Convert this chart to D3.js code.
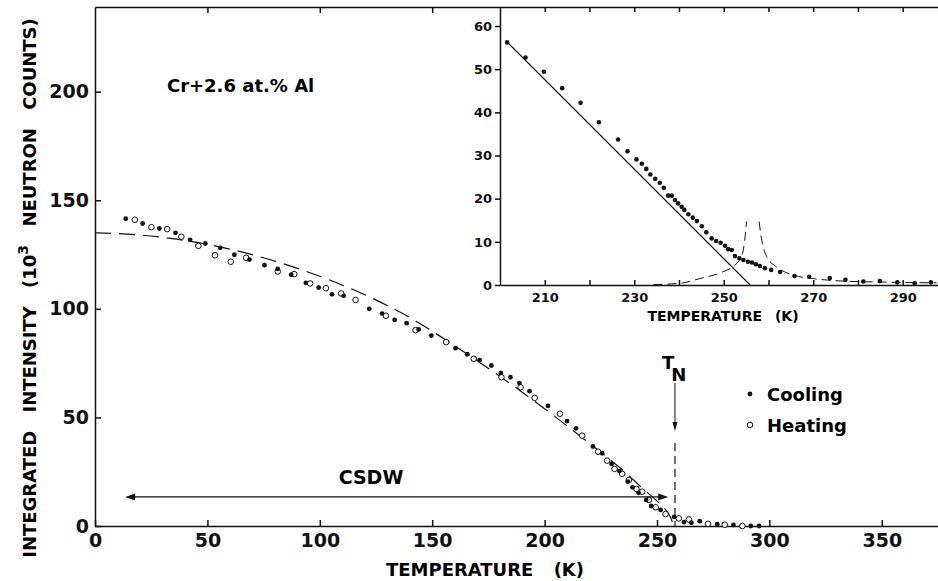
<!DOCTYPE html>
<html>
<head>
<meta charset="utf-8">
<script src="https://cdn.jsdelivr.net/npm/d3@7"></script>
<style>
  body { margin: 0; background: #fff; }
  svg { display: block; font-family: "DejaVu Sans", sans-serif; font-weight: bold; }
</style>
</head>
<body>
<svg width="938" height="581"></svg>
<script>
// Main panel: cooling (filled) and heating (open) runs
const coolT = [13.7, 21.2, 28.6, 35.8, 42.3, 49.1, 55.7, 62.0, 68.7, 75.4, 81.3, 87.3, 93.8, 99.5, 105.4, 110.6, 122.0, 127.7, 133.3, 138.6, 144.0, 149.6, 160.4, 165.6, 171.1, 176.3, 180.5, 184.8, 188.8, 193.3, 201.5, 210.0, 214.0, 221.5, 225.6, 229.8, 233.3, 237.0, 239.1, 241.8, 245.2, 247.4, 251.6, 257.6, 262.0, 265.3, 269.0, 276.8, 284.0, 291.7, 295.4];
const coolI = [141.5, 139.3, 137.0, 135.0, 131.8, 130.1, 128.1, 124.9, 122.7, 120.1, 118.4, 115.7, 112.0, 109.8, 106.7, 106.0, 100.0, 97.8, 94.9, 93.4, 90.5, 87.7, 81.9, 79.1, 76.4, 73.9, 70.5, 68.5, 65.8, 62.1, 55.3, 48.3, 45.0, 36.6, 33.5, 28.6, 25.3, 20.4, 17.8, 15.3, 12.0, 9.2, 7.4, 4.2, 1.8, 1.5, 2.2, 0.8, 0.5, 0, 0];

const heatT = [17.7, 25.1, 32.1, 38.4, 46.0, 53.4, 60.4, 67.2, 81.3, 88.6, 95.7, 102.7, 109.5, 115.9, 129.4, 142.6, 156.2, 168.5, 180.8, 189.3, 195.6, 206.8, 216.7, 223.8, 227.8, 231.1, 234.5, 237.5, 240.9, 243.4, 246.4, 249.4, 253.8, 259.7, 264.2, 272.7, 280.1, 288.0];
const heatI = [141.0, 137.6, 136.7, 133.2, 129.0, 124.7, 121.7, 123.5, 117.2, 116.0, 111.7, 109.5, 107.1, 104.1, 96.8, 90.2, 84.7, 77.0, 68.5, 63.9, 59.0, 51.7, 41.6, 34.2, 30.1, 26.3, 24.0, 21.2, 17.1, 15.8, 12.0, 8.6, 5.5, 3.5, 3.0, 1.0, 0.6, 0];

// dashed theoretical curve
const fitT = [0, 20, 40, 60, 80, 100, 120, 140, 160, 180, 200, 220, 235, 245, 250, 253, 256, 257.5];
const fitI = [135, 134, 131.5, 127.5, 122, 115, 106.5, 96, 83, 69, 54, 38, 25.5, 16, 11.5, 8.5, 4, 0];

const xTicks = [0, 50, 100, 150, 200, 250, 300, 350];
const yTicks = [0, 50, 100, 150, 200];
const TN = 258;
const csdwFrom = 13.4, csdwTo = 255, csdwLevel = 13.4;

// Inset: cooling run near T_N
const insT = [201.6, 205.7, 209.8, 213.9, 218.0, 222.1, 226.4, 228.5, 230.5, 231.7, 232.7, 233.6, 234.7, 235.7, 236.6, 237.6, 238.4, 239.1, 239.8, 240.6, 241.2, 242.1, 243.1, 244.0, 245.1, 246.1, 247.3, 248.3, 249.3, 250.3, 251.0, 251.8, 252.5, 253.5, 254.4, 255.4, 256.3, 257.2, 258.1, 259.2, 260.6, 262.6, 265.8, 269.1, 273.7, 277.2, 281.2, 284.9, 288.8, 292.7, 296.3];
const insI = [56.2, 52.7, 49.4, 45.6, 42.2, 37.7, 33.7, 31.0, 29.1, 28.1, 26.9, 25.6, 24.6, 23.7, 22.5, 20.7, 20.7, 19.7, 18.9, 18.1, 17.4, 16.4, 15.6, 14.8, 13.6, 12.2, 10.8, 10.2, 9.8, 9.1, 8.3, 8.1, 6.7, 6.2, 5.8, 5.4, 5.2, 4.8, 4.4, 3.9, 3.5, 3.0, 2.1, 1.9, 1.6, 1.2, 0.8, 0.9, 0.6, 0.4, 0.6];
const insLineT = [201.5, 255.9];
const insLineI = [56.4, 0];
const insDashLT = [234.3, 240.3, 244.7, 249.9, 252.9, 254.2, 254.7, 255.1];
const insDashLI = [0.1, 0.4, 1.5, 3.1, 5.0, 7.3, 10.4, 14.7];
const insDashRT = [257.9, 258.5, 259.6, 261.8, 265.5, 270, 276.7, 284.2, 297.6];
const insDashRI = [14.7, 10.4, 6.6, 4.2, 2.3, 1.5, 0.9, 0.7, 0.5];
const insXTicks = [210, 220, 230, 240, 250, 260, 270, 280, 290];
const insXLabels = [210, 230, 250, 270, 290];
const insYTicks = [0, 10, 20, 30, 40, 50, 60];

const svg = d3.select("svg");

const x = d3.scaleLinear().domain([0, 375]).range([95, 938]);
const y = d3.scaleLinear().domain([0, 239]).range([526, 7]);

// main axes, ticks pointing inward
svg.append("g")
    .attr("transform", "translate(0,526)")
    .call(d3.axisBottom(x).tickValues(xTicks).tickSize(-6).tickSizeOuter(0).tickPadding(8))
    .call(g => g.selectAll("text").attr("font-size", 19));
svg.append("g")
    .attr("transform", "translate(95,0)")
    .call(d3.axisLeft(y).tickValues(yTicks).tickSize(-6).tickSizeOuter(0).tickPadding(6))
    .call(g => g.selectAll("text").attr("font-size", 19));
svg.append("g")
    .attr("transform", "translate(0,7)")
    .call(d3.axisTop(x).tickValues([50, 100, 150]).tickSize(-6).tickSizeOuter(0).tickFormat(""));
svg.selectAll(".domain, .tick line").attr("stroke", "#111").attr("stroke-width", 1.5);
svg.selectAll(".tick text").attr("fill", "#111").attr("font-family", "DejaVu Sans").attr("font-weight", "bold");

// axis titles
svg.append("text")
    .attr("x", 485).attr("y", 576)
    .attr("text-anchor", "middle").attr("font-size", 18)
    .attr("word-spacing", 14)
    .text("TEMPERATURE (K)");

const yt = svg.append("text")
    .attr("transform", "translate(36,288) rotate(-90)")
    .attr("text-anchor", "middle").attr("font-size", 18)
    .attr("word-spacing", 12);
yt.append("tspan").text("INTEGRATED INTENSITY (10");
yt.append("tspan").attr("font-size", 14).attr("dy", -8).text("3");
yt.append("tspan").attr("dy", 8).text(" NEUTRON COUNTS)");

svg.append("text")
    .attr("x", x(32)).attr("y", y(200))
    .attr("font-size", 18)
    .text("Cr+2.6 at.% Al");

// dashed fit
const fitLine = d3.line().x(d => x(d[0])).y(d => y(d[1])).curve(d3.curveMonotoneX);
svg.append("path")
    .datum(d3.zip(fitT, fitI))
    .attr("d", fitLine)
    .attr("fill", "none").attr("stroke", "#111").attr("stroke-width", 1.2)
    .attr("stroke-dasharray", "16,8");

// points
svg.append("g").selectAll("circle")
    .data(d3.zip(heatT, heatI))
    .join("circle")
    .attr("cx", d => x(d[0])).attr("cy", d => y(d[1])).attr("r", 2.8)
    .attr("fill", "#fff").attr("stroke", "#111").attr("stroke-width", 1);
svg.append("g").selectAll("circle")
    .data(d3.zip(coolT, coolI))
    .join("circle")
    .attr("cx", d => x(d[0])).attr("cy", d => y(d[1])).attr("r", 2.4)
    .attr("fill", "#111");

// CSDW double arrow
const ay = y(csdwLevel);
svg.append("line")
    .attr("x1", x(csdwFrom) + 6).attr("x2", x(csdwTo) - 6)
    .attr("y1", ay).attr("y2", ay)
    .attr("stroke", "#111").attr("stroke-width", 1.2);
svg.append("path")
    .attr("d", `M${x(csdwFrom)},${ay} l10,-3.5 l0,7 Z M${x(csdwTo)},${ay} l-10,-3.5 l0,7 Z`)
    .attr("fill", "#111");
svg.append("text")
    .attr("x", 371).attr("y", 484)
    .attr("text-anchor", "middle").attr("font-size", 19)
    .text("CSDW");

// T_N marker
const tx = x(TN);
svg.append("line")
    .attr("x1", tx).attr("x2", tx).attr("y1", 383).attr("y2", 424)
    .attr("stroke", "#111").attr("stroke-width", 1);
svg.append("path")
    .attr("d", `M${tx},431 l-2.5,-9 l5,0 Z`).attr("fill", "#111");
svg.append("line")
    .attr("x1", tx).attr("x2", tx).attr("y1", 443).attr("y2", y(0))
    .attr("stroke", "#111").attr("stroke-width", 1.2)
    .attr("stroke-dasharray", "8,5");
const tn = svg.append("text").attr("x", tx - 13).attr("y", 369).attr("font-size", 18);
tn.append("tspan").text("T");
tn.append("tspan").attr("dx", -3).attr("dy", 12).text("N");

// legend
svg.append("circle").attr("cx", 750).attr("cy", 394).attr("r", 2.4).attr("fill", "#111");
svg.append("circle").attr("cx", 750).attr("cy", 425).attr("r", 2.8)
    .attr("fill", "#fff").attr("stroke", "#111").attr("stroke-width", 1);
svg.append("text").attr("x", 767).attr("y", 401).attr("font-size", 18).text("Cooling");
svg.append("text").attr("x", 767).attr("y", 432).attr("font-size", 18).text("Heating");

// ---- inset ----
const xi = d3.scaleLinear().domain([200, 298]).range([500, 938.5]);
const yi = d3.scaleLinear().domain([0, 64.4]).range([285, 7]);
const inset = svg.append("g");

inset.append("g")
    .attr("transform", "translate(0,285)")
    .call(d3.axisBottom(xi).tickValues(insXTicks).tickSize(-5).tickSizeOuter(0).tickPadding(8)
        .tickFormat(d => insXLabels.includes(d) ? d : ""));
inset.append("g")
    .attr("transform", "translate(500,0)")
    .call(d3.axisLeft(yi).tickValues(insYTicks).tickSize(5).tickSizeOuter(0).tickPadding(3));
inset.append("g")
    .attr("transform", "translate(0,7)")
    .call(d3.axisTop(xi).tickValues(insXTicks).tickSize(-5).tickSizeOuter(0).tickFormat(""))
    .call(g => g.select(".domain").remove());
inset.selectAll(".domain, .tick line").attr("stroke", "#111").attr("stroke-width", 1.5);
inset.selectAll(".tick text").attr("fill", "#111").attr("font-size", 13)
    .attr("font-family", "DejaVu Sans").attr("font-weight", "bold");

inset.append("text")
    .attr("x", 723).attr("y", 321)
    .attr("text-anchor", "middle").attr("font-size", 14)
    .attr("word-spacing", 8)
    .text("TEMPERATURE (K)");

const insLine = d3.line().x(d => xi(d[0])).y(d => yi(d[1]));
inset.append("path")
    .datum(d3.zip(insLineT, insLineI))
    .attr("d", insLine)
    .attr("fill", "none").attr("stroke", "#111").attr("stroke-width", 1.2);
[[insDashLT, insDashLI], [insDashRT, insDashRI]].forEach(([t, v]) => {
    inset.append("path")
        .datum(d3.zip(t, v))
        .attr("d", insLine.curve(d3.curveMonotoneX))
        .attr("fill", "none").attr("stroke", "#111").attr("stroke-width", 1)
        .attr("stroke-dasharray", "9,5");
});
inset.append("g").selectAll("circle")
    .data(d3.zip(insT, insI))
    .join("circle")
    .attr("cx", d => xi(d[0])).attr("cy", d => yi(d[1])).attr("r", 2.3)
    .attr("fill", "#111");
</script>
</body>
</html>
